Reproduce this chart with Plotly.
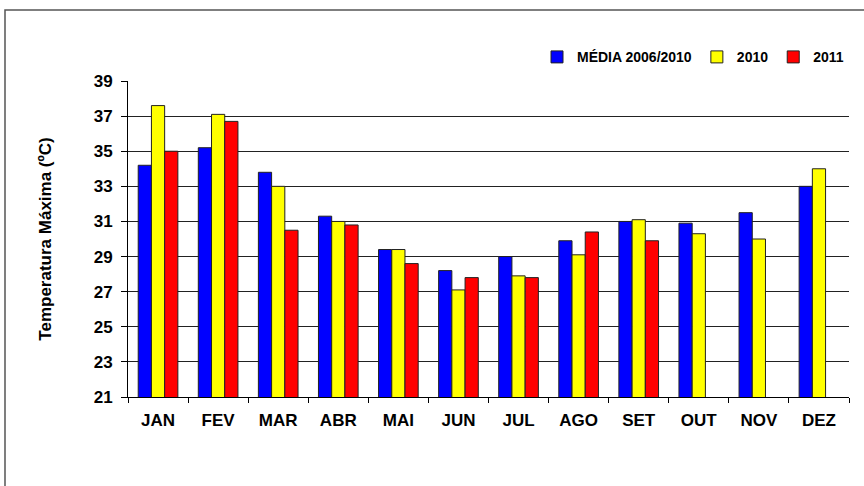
import plotly.graph_objects as go

months = ["JAN", "FEV", "MAR", "ABR", "MAI", "JUN", "JUL", "AGO", "SET", "OUT", "NOV", "DEZ"]
media_2006_2010 = [34.2, 35.2, 33.8, 31.3, 29.4, 28.2, 29.0, 29.9, 31.0, 30.9, 31.5, 33.0]
y2010 = [37.6, 37.1, 33.0, 31.0, 29.4, 27.1, 27.9, 29.1, 31.1, 30.3, 30.0, 34.0]
y2011 = [35.0, 36.7, 30.5, 30.8, 28.6, 27.8, 27.8, 30.4, 29.9, None, None, None]
y_ticks = [21, 23, 25, 27, 29, 31, 33, 35, 37, 39]

FONT = "Liberation Sans, Arial, sans-serif"
outline = dict(color="#222222", width=1)

fig = go.Figure()
fig.add_trace(go.Bar(x=months, y=media_2006_2010, name="MÉDIA 2006/2010",
                     marker=dict(color="#0000FF", line=outline)))
fig.add_trace(go.Bar(x=months, y=y2010, name="2010",
                     marker=dict(color="#FFFF00", line=outline)))
fig.add_trace(go.Bar(x=months, y=y2011, name="2011",
                     marker=dict(color="#FF0000", line=outline)))

fig.update_layout(
    width=864, height=486,
    margin=dict(l=128, r=15, t=81, b=89, autoexpand=False),
    paper_bgcolor="white", plot_bgcolor="white",
    barmode="group", bargap=0.34, bargroupgap=0,
    font=dict(family=FONT, color="black"),
    legend=dict(orientation="h", x=1.0, xanchor="right", y=1.075, yanchor="middle",
                font=dict(family=FONT, size=14, weight="bold"),
                itemwidth=30, tracegroupgap=0, bgcolor="rgba(0,0,0,0)"),
    showlegend=True,
)
fig.update_xaxes(
    showline=True, linecolor="black", linewidth=1, automargin=False,
    ticks="outside", ticklen=5, tickcolor="black", tickson="boundaries",
    ticklabelstandoff=8,
    tickfont=dict(family=FONT, size=17, weight="bold"),
    showgrid=False,
)
fig.update_yaxes(
    range=[21, 39], tickvals=y_ticks, automargin=False,
    showline=True, linecolor="black", linewidth=1,
    ticks="outside", ticklen=6, tickcolor="black",
    ticklabelstandoff=5,
    tickfont=dict(family=FONT, size=17, weight="bold"),
    showgrid=True, gridcolor="#222222", gridwidth=1,
    zeroline=False,
    title=dict(text="Temperatura Máxima (ºC)", standoff=37,
               font=dict(family=FONT, size=17, weight="bold")),
)
# outer frame of the original figure box
fig.add_shape(type="rect", xref="paper", yref="paper",
              x0=-0.1706, x1=1.2, y0=-0.6, y1=1.2247,
              line=dict(color="#555555", width=1.5), layer="below")

fig.write_html("out.html", config={"displayModeBar": False},
               post_script="document.body.style.margin='0px';")
